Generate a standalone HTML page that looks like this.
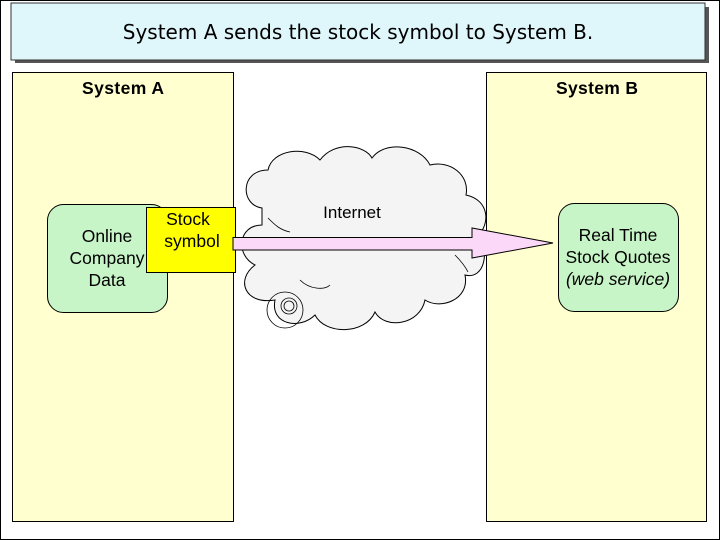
<!DOCTYPE html>
<html><head><meta charset="utf-8"><style>
body{margin:0;background:#fff;}
svg{display:block;font-family:"Liberation Sans",Arial,sans-serif;}
</style></head><body>
<svg width="720" height="540" viewBox="0 0 720 540" xmlns="http://www.w3.org/2000/svg">
<rect x="0.5" y="0.5" width="719" height="539" fill="#fff" stroke="#000"/>
<rect x="15" y="7" width="694" height="56" fill="#555"/>
<rect x="11" y="3" width="694" height="57" fill="#dff6fb" stroke="#333"/>
<text x="358" y="39" font-size="20" text-anchor="middle" font-family="DejaVu Sans, sans-serif">System A sends the stock symbol to System B.</text>
<rect x="12.5" y="72.5" width="221" height="449" fill="#ffffd0" stroke="#000"/>
<rect x="486.5" y="72.5" width="220" height="449" fill="#ffffd0" stroke="#000"/>
<text x="123" y="94" font-size="17.5" font-weight="bold" text-anchor="middle" textLength="82">System A</text>
<text x="597" y="94" font-size="17.5" font-weight="bold" text-anchor="middle" textLength="82">System B</text>
<path d="M262 208 C240 205 240 170 268 170 C272 150 305 145 320 160 C335 140 365 145 372 158 C385 140 420 145 430 165 C450 160 470 175 466 195 C490 200 490 225 478 235 C490 250 485 280 465 275 C470 300 440 310 425 300 C420 325 385 330 375 312 C365 335 325 335 315 315 C300 330 270 325 275 300 C245 305 235 280 255 265 C235 255 238 225 262 225 Z" fill="#f4f4f4" stroke="#000" stroke-width="1"/>
<path d="M268 218 C275 225 280 230 290 232 M455 255 C460 260 465 266 468 272 M300 280 C310 290 325 290 330 285" fill="none" stroke="#000" stroke-width="0.8"/>
<circle cx="285" cy="310" r="18" fill="none" stroke="#000" stroke-width="0.8"/>
<circle cx="289" cy="306" r="8" fill="none" stroke="#000" stroke-width="0.8"/>
<circle cx="289" cy="306" r="5" fill="none" stroke="#000" stroke-width="0.8"/>
<text x="352" y="218" font-size="17" text-anchor="middle">Internet</text>
<rect x="47.5" y="204.5" width="120" height="108" rx="16" fill="#c8f5c8" stroke="#000"/>
<text font-size="17.5" text-anchor="middle"><tspan x="107" y="242">Online</tspan><tspan x="107" y="264">Company</tspan><tspan x="107" y="286">Data</tspan></text>
<rect x="146.5" y="207.5" width="89" height="65" fill="#ffff00" stroke="#000"/>
<text font-size="17.5" text-anchor="middle"><tspan x="188" y="225">Stock</tspan><tspan x="192" y="247">symbol</tspan></text>
<path d="M233 237.5 H472 V228 L553 243 L472 258 V250 H233 Z" fill="#fcd8f8" stroke="#000"/>
<rect x="558.5" y="203.5" width="120" height="108" rx="16" fill="#c8f5c8" stroke="#000"/>
<text font-size="17.5" text-anchor="middle"><tspan x="618" y="241">Real Time</tspan><tspan x="618" y="263">Stock Quotes</tspan><tspan x="618" y="285" font-style="italic">(web service)</tspan></text>
</svg>
</body></html>
